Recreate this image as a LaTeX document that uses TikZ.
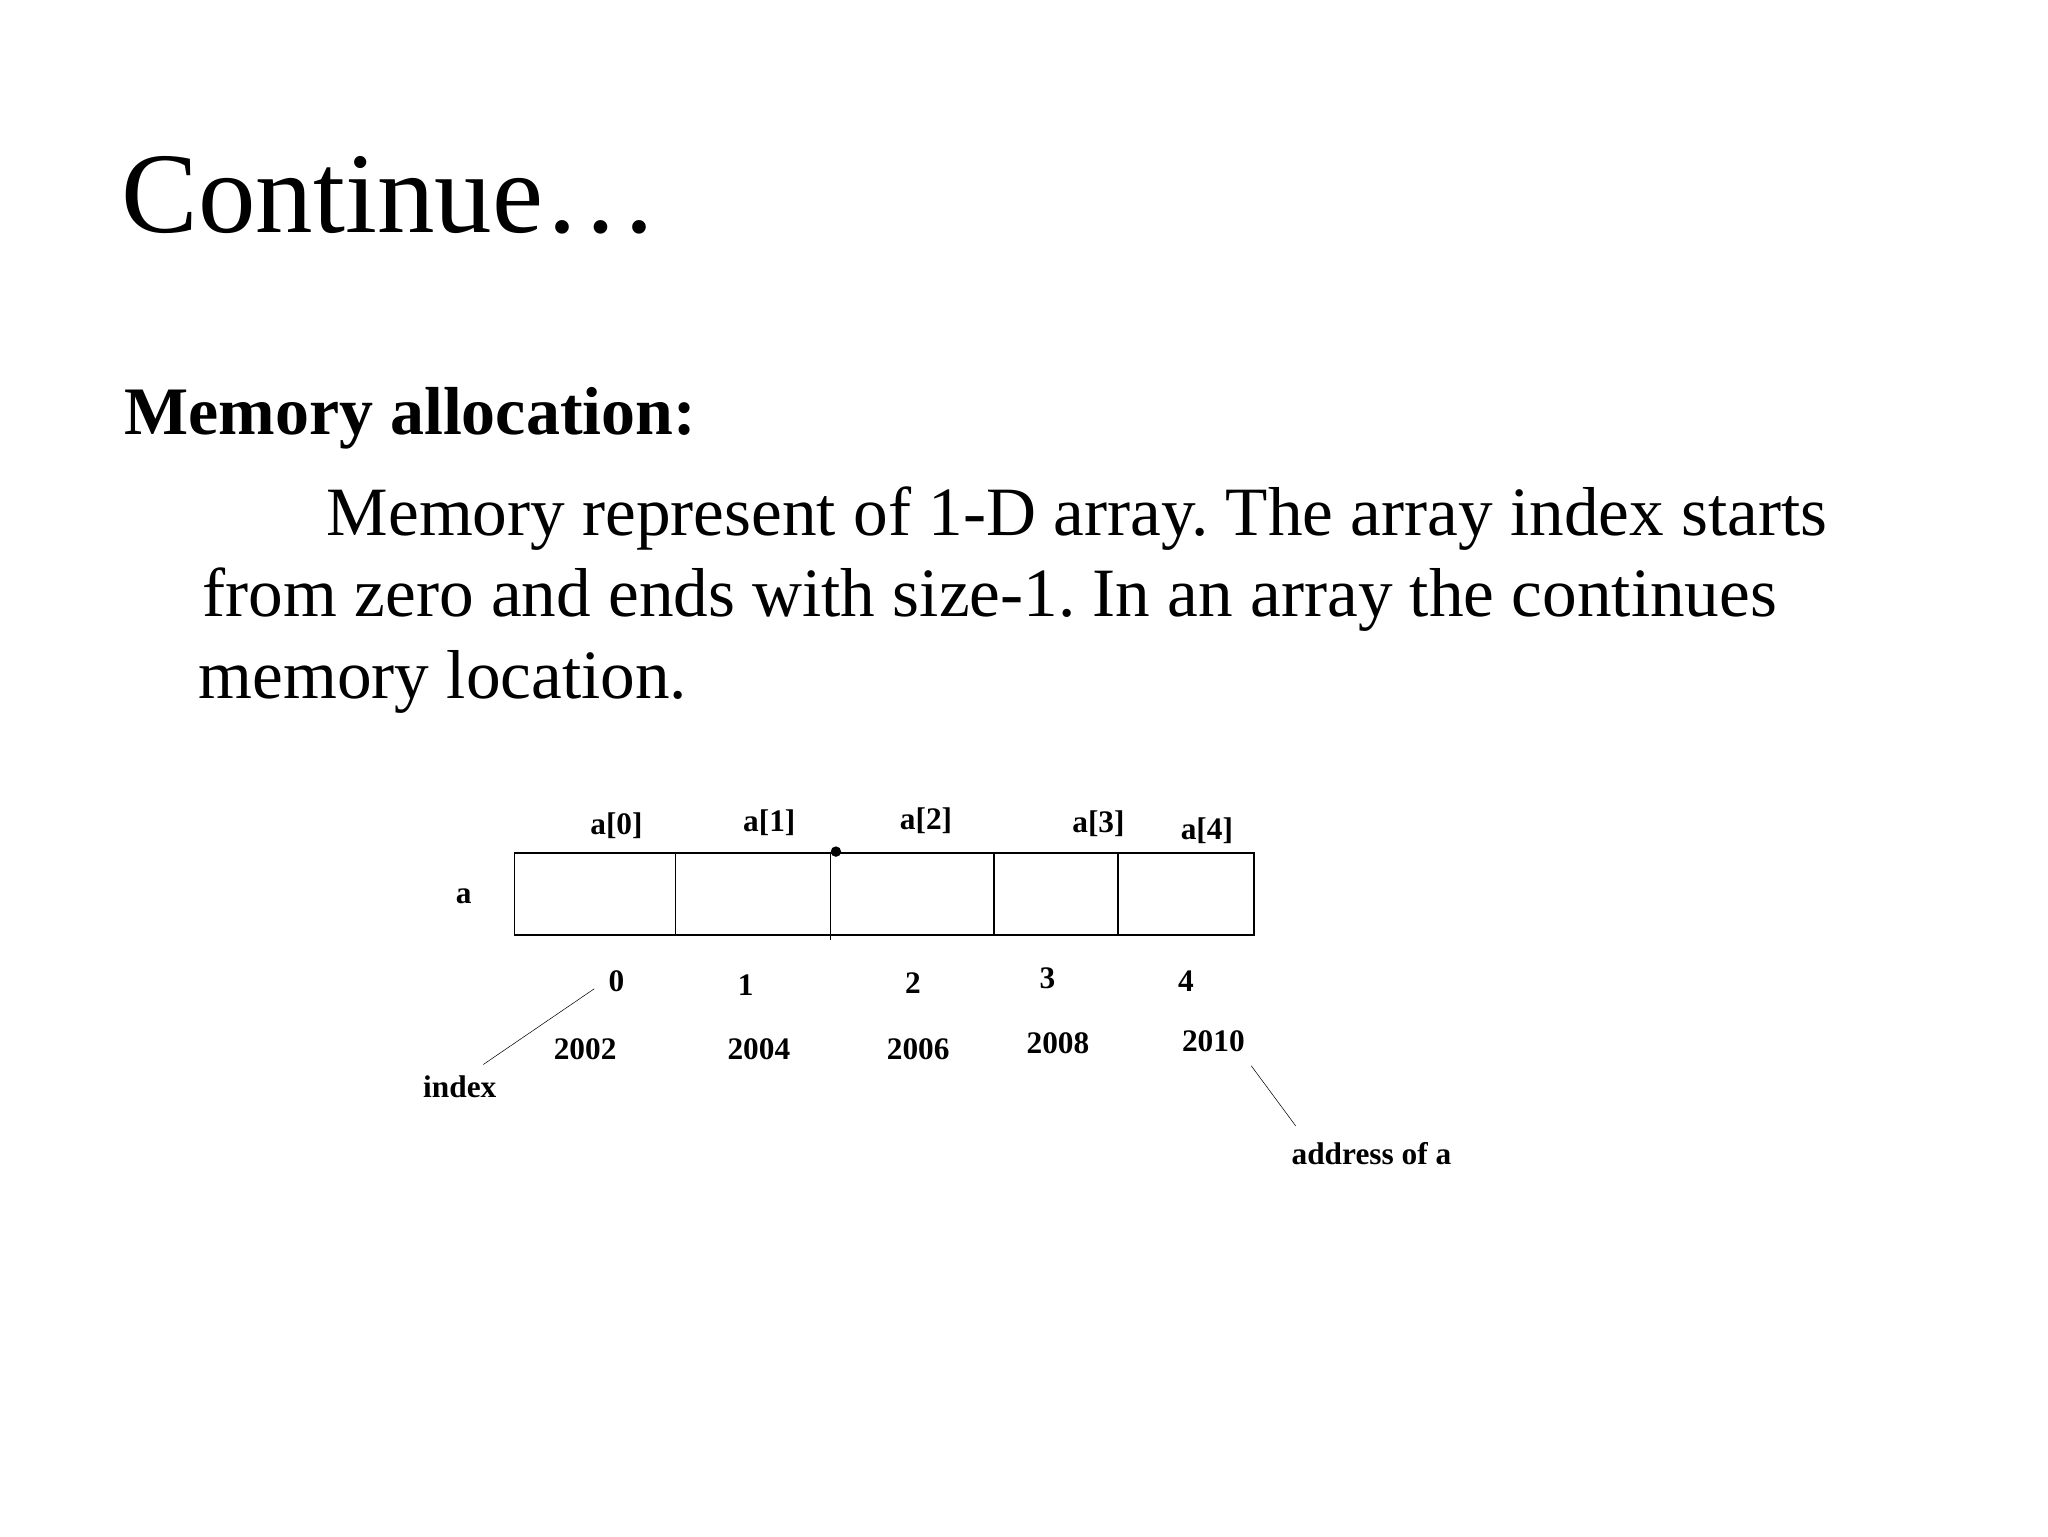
\documentclass[tikz,border=0pt]{standalone}
\usepackage{fontspec}
\setmainfont{Liberation Serif}
\begin{document}
\frenchspacing
\begin{tikzpicture}[x=1pt,y=-1pt,
  lbl/.style={font=\fontsize{24}{26}\selectfont\bfseries, inner sep=0pt},
  body/.style={font=\fontsize{53}{60}\selectfont, anchor=base west, inner sep=0pt},
  cell/.style={draw, line width=1.3pt}]
\useasboundingbox (0,0) rectangle (1568,1176);
\node[anchor=base west, inner sep=0pt, font=\fontsize{88}{96}\selectfont] (title) at (93,178) {Continue…};
\node[body, font=\fontsize{52}{60}\selectfont\bfseries] (head) at (95,333) {Memory allocation:};
\node[body] (l1) at (250,410) {Memory represent of 1-D array. The array index starts};
\node[body] (l2) at (155,472) {from zero and ends with size-1. In an array the continues};
\node[body] (l3) at (152,535) {memory location.};
% array
\draw[cell] (394,653) rectangle (960,716);
\draw[line width=1pt] (517,653) -- (517,716);
\draw[line width=1pt] (636,653) -- (636,720);
\draw[line width=1pt] (761,653) -- (761,716);
\draw[line width=1pt] (856,653) -- (856,716);
\fill (640,652) circle (4);
\node[lbl] (a0) at (472,632) {a[0]};
\node[lbl] (a1) at (589,630) {a[1]};
\node[lbl] (a2) at (709,628) {a[2]};
\node[lbl] (a3) at (841,631) {a[3]};
\node[lbl] (a4) at (924,636) {a[4]};
\node[lbl] (a) at (355,686) {a};
\node[lbl] (i0) at (472,751) {0};
\node[lbl] (i1) at (571,754) {1};
\node[lbl] (i2) at (699,753) {2};
\node[lbl] (i3) at (802,749) {3};
\node[lbl] (i4) at (908,751) {4};
\node[lbl] (d0) at (448,803) {2002};
\node[lbl] (d1) at (581,803) {2004};
\node[lbl] (d2) at (703,803) {2006};
\node[lbl] (d3) at (810,799) {2008};
\node[lbl] (d4) at (929,797) {2010};
\node[lbl] (index) at (352,832) {index};
\node[lbl] (addr) at (1050,883) {address of a};
\coordinate (p1) at (455,757);
\coordinate (p2) at (370,815);
\coordinate (q1) at (958,816);
\coordinate (q2) at (992,862);
\draw (p1) -- (p2);
\draw (q1) -- (q2);
\end{tikzpicture}
\end{document}
